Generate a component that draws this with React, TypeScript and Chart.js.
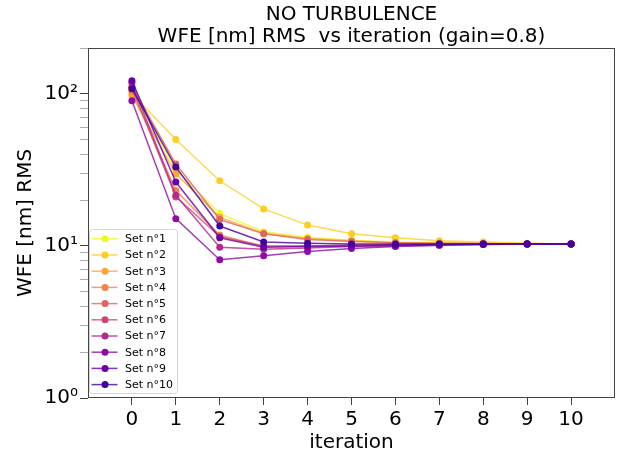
import { useEffect, useRef } from "react";
import { Chart, registerables } from "chart.js";

Chart.register(...registerables);

const FONT = "'DejaVu Sans', sans-serif";

const iterations = [0, 1, 2, 3, 4, 5, 6, 7, 8, 9, 10];

const setLabels = [
  "Set n°1", "Set n°2", "Set n°3", "Set n°4", "Set n°5",
  "Set n°6", "Set n°7", "Set n°8", "Set n°9", "Set n°10",
];

const set1 = [105, 31.5, 16.3, 12.4, 11.4, 10.9, 10.6, 10.5, 10.4, 10.35, 10.3];
const set2 = [100, 50, 26.8, 17.5, 13.7, 12.0, 11.3, 10.8, 10.6, 10.4, 10.3];
const set3 = [97, 29.8, 15.4, 12.1, 11.2, 10.8, 10.5, 10.4, 10.35, 10.3, 10.3];
const set4 = [104, 23.1, 11.8, 9.9, 10.0, 10.1, 10.2, 10.25, 10.3, 10.3, 10.3];
const set5 = [112, 34.5, 14.9, 12.0, 11.0, 10.7, 10.5, 10.4, 10.35, 10.3, 10.3];
const set6 = [110, 21.0, 11.5, 10.0, 10.0, 10.1, 10.2, 10.25, 10.3, 10.3, 10.3];
const set7 = [118, 21.5, 9.8, 9.5, 9.7, 9.9, 10.0, 10.1, 10.2, 10.3, 10.3];
const set8 = [90, 15.1, 8.1, 8.6, 9.2, 9.6, 9.9, 10.1, 10.2, 10.3, 10.3];
const set9 = [122, 26.3, 11.3, 9.8, 9.9, 10.0, 10.1, 10.2, 10.3, 10.3, 10.3];
const set10 = [108, 33.0, 13.5, 10.6, 10.4, 10.3, 10.3, 10.3, 10.3, 10.3, 10.3];

const setValues = [set1, set2, set3, set4, set5, set6, set7, set8, set9, set10];

const setColors = [
  "#f0f921", "#fcce25", "#fca636", "#f2844b", "#e16462",
  "#cc4778", "#b12a90", "#8f0da4", "#6a00a8", "#41049d",
];

const xTickValues = [0, 1, 2, 3, 4, 5, 6, 7, 8, 9, 10];
const yTickValues = [1, 2, 3, 4, 5, 6, 7, 8, 9, 10, 20, 30, 40, 50, 60, 70, 80, 90, 100, 200];
const yMajorLabels: Record<number, string> = { 1: "10⁰", 10: "10¹", 100: "10²" };

const titleLines = ["NO TURBULENCE", "WFE [nm] RMS  vs iteration (gain=0.8)"];
const xTitle = "iteration";
const yTitle = "WFE [nm] RMS";

const framePlugin = {
  id: "frameAndLegend",
  afterDatasetsDraw(chart: any) {
    const { ctx, chartArea: ca } = chart;
    ctx.save();
    ctx.strokeStyle = "#444";
    ctx.lineWidth = 1;
    ctx.strokeRect(ca.left + 0.5, ca.top + 0.5, ca.right - ca.left - 1, ca.bottom - ca.top - 1);

    // legend
    const bx = ca.left + 1.5;
    const by = ca.top + 181.5;
    const bw = 88;
    const bh = 164;
    ctx.beginPath();
    ctx.roundRect(bx, by, bw, bh, 3);
    ctx.fillStyle = "rgba(255,255,255,0.85)";
    ctx.fill();
    ctx.strokeStyle = "#d6d6d6";
    ctx.stroke();

    const ds = chart.data.datasets;
    ds.forEach((d: any, i: number) => {
      const cy = by + 9.3 + i * 16.2;
      ctx.beginPath();
      ctx.strokeStyle = d.borderColor;
      ctx.lineWidth = 1.5;
      ctx.moveTo(bx + 2, cy);
      ctx.lineTo(bx + 28, cy);
      ctx.stroke();
      ctx.beginPath();
      ctx.fillStyle = d.pointBackgroundColor;
      ctx.arc(bx + 15.5, cy, 3.5, 0, Math.PI * 2);
      ctx.fill();
      ctx.fillStyle = "#000";
      ctx.font = `11px ${FONT}`;
      ctx.textBaseline = "middle";
      ctx.textAlign = "left";
      ctx.fillText(d.label, bx + 35.5, cy + 0.5);
    });
    ctx.restore();
  },
};

export default function App() {
  const ref = useRef<HTMLCanvasElement>(null);

  useEffect(() => {
    if (!ref.current) return;
    const datasets = setValues.map((vals, i) => ({
      label: setLabels[i],
      data: vals.map((v, j) => ({ x: iterations[j], y: v })),
      borderColor: setColors[i] + "cc",
      backgroundColor: setColors[i],
      pointBackgroundColor: setColors[i],
      pointBorderColor: setColors[i],
      pointBorderWidth: 0,
      pointRadius: 3.5,
      borderWidth: 1.5,
      tension: 0,
      order: setValues.length - i,
    }));

    const chart = new Chart(ref.current, {
      type: "line",
      data: { datasets },
      options: {
        animation: false,
        responsive: false,
        layout: { padding: { left: 0, right: 12, top: 0, bottom: 0 } },
        plugins: {
          legend: { display: false },
          tooltip: { enabled: false },
          title: {
            display: true,
            text: titleLines,
            color: "#000",
            fullSize: false,
            font: { family: FONT, size: 20, weight: "normal", lineHeight: 1.1 },
            padding: { top: 4, bottom: 0 },
          },
        },
        scales: {
          x: {
            type: "linear",
            min: -1,
            max: 11,
            afterBuildTicks: (scale: any) => {
              scale.ticks = xTickValues.map((v) => ({ value: v }));
            },
            afterFit: (scale: any) => {
              scale.height = 57;
            },
            grid: {
              drawOnChartArea: false,
              drawTicks: true,
              tickLength: 7,
              tickColor: "#444",
            },
            border: { display: false },
            ticks: {
              autoSkip: false,
              maxRotation: 0,
              color: "#000",
              padding: 3,
              font: { family: FONT, size: 20 },
              callback: (v: any) => String(v),
            },
            title: {
              display: true,
              text: xTitle,
              color: "#000",
              font: { family: FONT, size: 20, lineHeight: 1.2 },
              padding: { top: 0, bottom: 0 },
            },
          },
          y: {
            type: "logarithmic",
            min: 1,
            max: 200,
            afterBuildTicks: (scale: any) => {
              scale.ticks = yTickValues.map((v) => ({ value: v, major: v in yMajorLabels }));
            },
            afterFit: (scale: any) => {
              scale.width = 88;
            },
            grid: {
              drawOnChartArea: false,
              drawTicks: true,
              tickLength: 8,
              tickColor: (c: any) => (c.tick && yMajorLabels[c.tick.value] ? "#444" : "#aaa"),
            },
            border: { display: false },
            ticks: {
              autoSkip: false,
              color: "#000",
              padding: 2,
              font: { family: FONT, size: 20 },
              callback: (v: any) => yMajorLabels[v as number] ?? "",
            },
            title: {
              display: true,
              text: yTitle,
              color: "#000",
              font: { family: FONT, size: 20, lineHeight: 1.2 },
              padding: { top: 14, bottom: 0 },
            },
          },
        },
      },
      plugins: [framePlugin],
    });
    return () => chart.destroy();
  }, []);

  return (
    <div style={{ position: "absolute", left: 0, top: 0, width: 627, height: 455, background: "#fff" }}>
      <canvas ref={ref} width={627} height={455} />
    </div>
  );
}
